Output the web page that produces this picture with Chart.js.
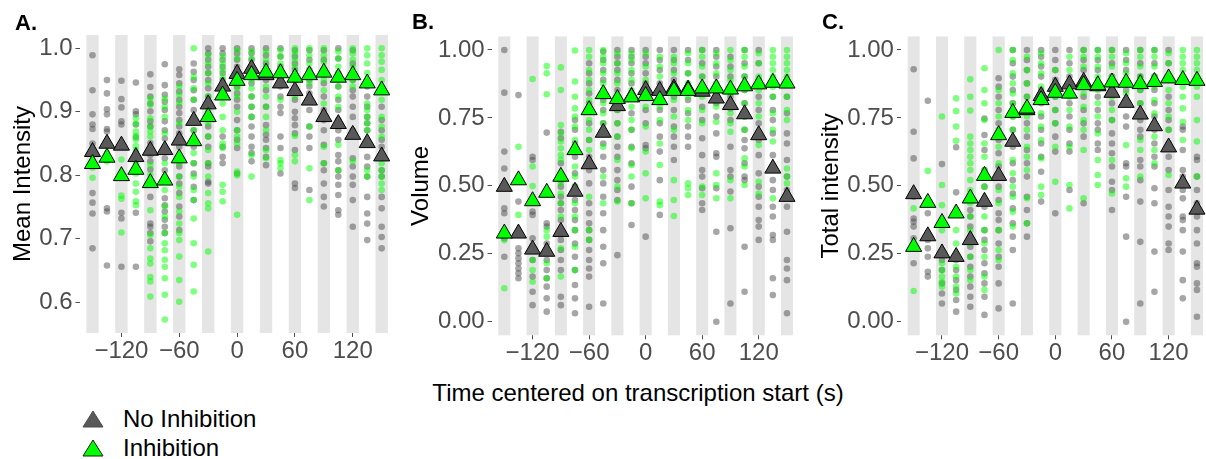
<!DOCTYPE html>
<html>
<head>
<meta charset="utf-8">
<script src="https://cdn.jsdelivr.net/npm/chart.js@4.4.1/dist/chart.umd.min.js"></script>
<style>
  html,body{margin:0;padding:0;background:#fff;}
  body{width:1206px;height:459px;overflow:hidden;position:relative;font-family:"Liberation Sans",Arial,sans-serif;}
  canvas{position:absolute;top:0;}
  .tag{position:absolute;font-weight:bold;font-size:22px;line-height:22px;color:#000;}
  .xtitle{position:absolute;left:338px;width:600px;top:380px;text-align:center;font-size:24px;line-height:26px;color:#000;}
  .leg{position:absolute;left:82px;font-size:24px;line-height:26px;color:#000;display:flex;align-items:center;}
  .leg svg{margin-right:19px;}
</style>
</head>
<body>
<canvas id="cA" width="405" height="375" style="left:0px"></canvas>
<canvas id="cB" width="410" height="375" style="left:400px"></canvas>
<canvas id="cC" width="415" height="375" style="left:805px"></canvas>

<div class="tag" style="left:15px;top:12px">A.</div>
<div class="tag" style="left:412px;top:11px">B.</div>
<div class="tag" style="left:822px;top:11px">C.</div>

<div class="xtitle">Time centered on transcription start (s)</div>
<div class="leg" style="top:406px">
  <svg width="22" height="18"><polygon points="11,1 21,17 1,17" fill="#595959" stroke="#4d4d4d" stroke-width="1"/></svg>No Inhibition
</div>
<div class="leg" style="top:435px">
  <svg width="22" height="18"><polygon points="11,1 21,17 1,17" fill="#00ff00" stroke="#1a1a1a" stroke-width="1"/></svg>Inhibition
</div>

<script>
// time bins (s) and axis ticks
const timeBins = [-150,-135,-120,-105,-90,-75,-60,-45,-30,-15,0,15,30,45,60,75,90,105,120,135,150];
const bandCenters = [-150,-120,-90,-60,-30,0,30,60,90,120,150];
const xTicks = [-120,-60,0,60,120];
const yTicksA = [0.6,0.7,0.8,0.9,1.0];
const yTicksBC = [0,0.25,0.5,0.75,1];

// A. Mean Intensity
const meanA_noInh = [0.837,0.850,0.847,0.829,0.839,0.840,0.855,0.886,0.912,0.940,0.960,0.968,0.958,0.945,0.933,0.918,0.892,0.881,0.864,0.851,0.830];
const meanA_inh   = [0.818,0.828,0.799,0.809,0.788,0.792,0.827,0.854,0.892,0.926,0.949,0.958,0.962,0.961,0.954,0.958,0.962,0.954,0.958,0.945,0.934];
const ptsA_noInh = [
  [0.989,0.934,0.896,0.880,0.873,0.850,0.772,0.757,0.740,0.685],
  [0.950,0.929,0.904,0.896,0.873,0.869,0.850,0.748,0.743,0.658],
  [0.949,0.920,0.907,0.885,0.880,0.845,0.741,0.732,0.656],
  [0.946,0.901,0.896,0.880,0.860,0.835,0.741,0.656],
  [0.959,0.939,0.924,0.913,0.901,0.885,0.877,0.851,0.832,0.822,0.809,0.790,0.766,0.724,0.719,0.709,0.696],
  [0.975,0.942,0.927,0.916,0.903,0.885,0.871,0.858,0.827,0.808,0.790,0.764,0.753,0.743,0.730,0.719,0.709],
  [0.967,0.958,0.945,0.932,0.919,0.908,0.898,0.887,0.877,0.866,0.845,0.829,0.814,0.798,0.787,0.772,0.751,0.735,0.714],
  [0.976,0.963,0.950,0.934,0.919,0.903,0.871,0.845,0.819,0.803,0.782,0.761],
  [1.0,0.992,0.982,0.971,0.961,0.950,0.937,0.924,0.898,0.877,0.861,0.845,0.819,0.814,0.790,0.787],
  [1.0,0.992,0.982,0.971,0.961,0.950,0.940,0.861,0.845,0.829,0.819],
  [1.0,0.992,0.982,0.971,0.961,0.950,0.940,0.929,0.919,0.908,0.887,0.871,0.856,0.843,0.803],
  [1.0,0.992,0.982,0.971,0.945,0.924,0.908,0.892,0.877,0.861,0.845,0.835,0.822],
  [1.0,0.989,0.976,0.950,0.934,0.908,0.879,0.864,0.856,0.843,0.829,0.816],
  [1.0,0.987,0.971,0.955,0.940,0.924,0.908,0.898,0.861,0.843,0.803],
  [0.997,0.987,0.976,0.966,0.950,0.934,0.919,0.900,0.890,0.879,0.866,0.840,0.787,0.780],
  [0.997,0.982,0.966,0.950,0.940,0.929,0.903,0.877,0.861,0.843,0.777],
  [0.997,0.982,0.961,0.945,0.924,0.903,0.887,0.871,0.848,0.819,0.808,0.787,0.766,0.751],
  [1.0,0.984,0.961,0.940,0.919,0.903,0.887,0.871,0.856,0.832,0.822,0.808,0.798,0.785,0.769,0.745,0.738],
  [0.997,0.976,0.950,0.934,0.924,0.908,0.892,0.871,0.827,0.814,0.798,0.785,0.761,0.719],
  [0.940,0.924,0.908,0.892,0.882,0.871,0.829,0.814,0.798,0.766,0.740,0.724,0.698],
  [0.908,0.887,0.871,0.856,0.845,0.808,0.798,0.766,0.748,0.719,0.703,0.685]
];
const ptsA_inh = [
  [0.820,0.812,0.796],
  [0.835,0.822],
  [0.825,0.800,0.768,0.763,0.710],
  [0.890,0.881,0.869,0.862,0.856,0.846,0.840,0.829,0.819,0.803,0.787,0.774,0.759,0.753],
  [0.921,0.911,0.890,0.877,0.869,0.861,0.840,0.816,0.801,0.787,0.745,0.706,0.685,0.669,0.661,0.640,0.633,0.609],
  [0.921,0.908,0.892,0.866,0.843,0.819,0.777,0.751,0.735,0.709,0.693,0.682,0.667,0.656,0.638,0.612,0.573],
  [0.940,0.927,0.914,0.882,0.856,0.819,0.798,0.782,0.766,0.743,0.724,0.709,0.698,0.672,0.635,0.601],
  [1.0,0.955,0.937,0.919,0.892,0.871,0.856,0.835,0.819,0.798,0.777,0.761,0.732,0.693,0.659,0.617],
  [0.989,0.976,0.961,0.945,0.924,0.903,0.882,0.861,0.840,0.819,0.798,0.772,0.756,0.748,0.680],
  [0.987,0.976,0.966,0.955,0.945,0.934,0.913,0.892,0.871,0.850,0.843,0.785,0.774,0.759],
  [0.997,0.984,0.966,0.950,0.937,0.924,0.900,0.871,0.861,0.850,0.806,0.800,0.738],
  [0.995,0.984,0.971,0.961,0.950,0.937,0.924,0.908,0.892,0.832,0.798],
  [0.995,0.982,0.971,0.955,0.940,0.924,0.908,0.892,0.871,0.840,0.827],
  [0.997,0.987,0.976,0.961,0.945,0.919,0.824,0.819,0.811],
  [1.0,0.992,0.982,0.971,0.955,0.924,0.862,0.832,0.822],
  [1.0,0.989,0.976,0.961,0.945,0.877,0.811,0.761],
  [1.0,0.989,0.979,0.966,0.950,0.934,0.913,0.845,0.819],
  [0.995,0.984,0.971,0.955,0.940,0.924,0.908,0.848,0.808],
  [1.0,0.992,0.982,0.971,0.961,0.950,0.940,0.822],
  [1.0,0.989,0.976,0.961,0.913,0.903,0.892,0.882,0.871,0.856,0.808,0.798],
  [1.0,0.989,0.979,0.966,0.950,0.934,0.919,0.892,0.877,0.861,0.819,0.808,0.798,0.787,0.777]
];

// B. Volume
const meanB_noInh = [0.497,0.325,0.266,0.258,0.331,0.479,0.580,0.696,0.794,0.828,0.853,0.850,0.859,0.855,0.847,0.822,0.798,0.764,0.687,0.564,0.460];
const meanB_inh   = [0.325,0.521,0.444,0.475,0.534,0.632,0.779,0.838,0.820,0.826,0.831,0.816,0.850,0.850,0.859,0.859,0.855,0.867,0.874,0.880,0.877];
const ptsB_noInh = [
  [1.0,0.843,0.626,0.564,0.417,0.399,0.307,0.239],
  [0.834,0.442,0.270,0.252,0.233,0.215,0.196,0.178,0.160],
  [0.607,0.595,0.405,0.393,0.307,0.227,0.166,0.110,0.061],
  [0.696,0.362,0.350,0.288,0.227,0.190,0.160,0.129,0.086,0.037],
  [0.699,0.675,0.583,0.546,0.521,0.497,0.460,0.436,0.411,0.374,0.337,0.301,0.264,0.227,0.190,0.092,0.061],
  [0.742,0.706,0.656,0.607,0.546,0.497,0.448,0.411,0.374,0.337,0.288,0.239,0.190,0.135,0.086,0.031],
  [0.951,0.914,0.877,0.840,0.804,0.730,0.669,0.607,0.558,0.509,0.436,0.399,0.362,0.337,0.301,0.264,0.227,0.196,0.166,0.055],
  [0.994,0.963,0.926,0.890,0.853,0.816,0.779,0.730,0.656,0.607,0.558,0.509,0.460,0.399,0.337,0.276,0.215,0.067],
  [1.0,0.975,0.951,0.926,0.890,0.853,0.816,0.779,0.730,0.681,0.644,0.607,0.558,0.521,0.485,0.448,0.245],
  [1.0,0.975,0.951,0.914,0.877,0.828,0.767,0.706,0.644,0.583,0.497,0.436,0.356],
  [1.0,0.975,0.951,0.914,0.877,0.828,0.779,0.730,0.650,0.638,0.313],
  [1.0,0.963,0.926,0.877,0.828,0.779,0.730,0.681,0.626,0.521,0.393],
  [1.0,0.963,0.926,0.890,0.828,0.779,0.718,0.681,0.644,0.595],
  [1.0,0.963,0.914,0.865,0.816,0.767,0.718,0.681,0.644],
  [1.0,0.951,0.902,0.853,0.791,0.742,0.675,0.613,0.558,0.534,0.491,0.436,0.411],
  [1.0,0.975,0.939,0.902,0.865,0.804,0.755,0.693,0.620,0.607,0.491,0.331,0.0],
  [0.975,0.939,0.902,0.865,0.828,0.785,0.742,0.644,0.558,0.534,0.479,0.344,0.067],
  [1.0,0.951,0.902,0.853,0.804,0.755,0.706,0.669,0.638,0.583,0.534,0.521,0.276,0.110],
  [1.0,0.951,0.890,0.828,0.779,0.730,0.669,0.613,0.546,0.497,0.460,0.423,0.374,0.350,0.301],
  [0.890,0.828,0.779,0.742,0.693,0.613,0.571,0.521,0.485,0.423,0.387,0.319,0.301,0.160,0.098],
  [0.828,0.767,0.693,0.656,0.595,0.534,0.485,0.423,0.331,0.227,0.196,0.153,0.031]
];
const ptsB_inh = [
  [0.320,0.300,0.123],
  [0.644,0.520,0.393],
  [0.893,0.571,0.499,0.276,0.227,0.190,0.147],
  [0.941,0.914,0.837,0.337,0.313,0.264,0.215,0.160],
  [0.936,0.853,0.724,0.693,0.663,0.638,0.613,0.595,0.509,0.472,0.436,0.387,0.270,0.166],
  [0.998,0.884,0.828,0.785,0.755,0.718,0.669,0.626,0.571,0.534,0.497,0.436,0.387,0.337,0.276,0.190],
  [1.0,0.975,0.926,0.890,0.853,0.816,0.779,0.742,0.706,0.669,0.632,0.460,0.337,0.301],
  [1.0,0.975,0.951,0.914,0.877,0.840,0.804,0.767,0.730,0.693,0.644,0.534,0.436],
  [0.988,0.951,0.914,0.877,0.828,0.779,0.730,0.681,0.595,0.497,0.442],
  [0.988,0.963,0.926,0.890,0.853,0.791,0.742,0.706,0.638,0.577,0.534,0.436],
  [0.988,0.939,0.890,0.840,0.791,0.718,0.626,0.546,0.454],
  [0.975,0.939,0.902,0.853,0.791,0.742,0.656,0.577,0.442,0.429],
  [0.975,0.951,0.914,0.865,0.816,0.755,0.706,0.521,0.448,0.389],
  [0.988,0.951,0.914,0.877,0.828,0.779,0.742,0.509,0.491,0.466],
  [1.0,0.975,0.939,0.902,0.865,0.828,0.779,0.730,0.497,0.466],
  [0.988,0.951,0.914,0.877,0.840,0.791,0.736,0.546,0.503,0.454],
  [1.0,0.963,0.926,0.890,0.840,0.804,0.767,0.730,0.699,0.521,0.454],
  [1.0,0.975,0.939,0.902,0.853,0.804,0.755,0.706,0.601,0.571,0.503],
  [0.988,0.951,0.902,0.853,0.804,0.755,0.650,0.515,0.472],
  [1.0,0.975,0.951,0.926,0.902,0.865,0.828,0.767,0.706,0.663,0.564,0.454],
  [1.0,0.975,0.951,0.926,0.902,0.877,0.828,0.779,0.742,0.564,0.534,0.509]
];

// C. Total intensity
const meanC_noInh = [0.470,0.315,0.252,0.239,0.301,0.442,0.537,0.663,0.779,0.831,0.865,0.874,0.883,0.867,0.843,0.806,0.763,0.720,0.642,0.509,0.413];
const meanC_inh   = [0.276,0.438,0.364,0.399,0.454,0.537,0.687,0.769,0.785,0.816,0.843,0.840,0.871,0.871,0.881,0.880,0.875,0.883,0.896,0.890,0.887];
const ptsC_noInh = [
  [0.929,0.699,0.601,0.460,0.380,0.368,0.350,0.307,0.276,0.215],
  [0.813,0.399,0.301,0.270,0.239,0.184,0.166],
  [0.580,0.227,0.190,0.141,0.104,0.067],
  [0.642,0.476,0.227,0.190,0.153,0.117,0.080,0.037],
  [0.411,0.387,0.350,0.313,0.276,0.239,0.202,0.166,0.129,0.092,0.055],
  [0.748,0.687,0.632,0.558,0.497,0.423,0.337,0.301,0.264,0.215,0.178,0.141,0.092,0.025],
  [0.896,0.865,0.828,0.779,0.730,0.669,0.620,0.571,0.497,0.448,0.399,0.374,0.337,0.288,0.239,0.202,0.141,0.049],
  [1.0,0.951,0.902,0.853,0.804,0.755,0.706,0.644,0.583,0.521,0.472,0.417,0.362,0.313,0.264,0.067],
  [1.0,0.963,0.926,0.877,0.828,0.779,0.730,0.681,0.632,0.583,0.534,0.460,0.411,0.362,0.313],
  [1.0,0.975,0.939,0.902,0.853,0.804,0.755,0.706,0.656,0.607,0.552,0.442],
  [1.0,0.963,0.926,0.890,0.828,0.779,0.730,0.681,0.626,0.399],
  [1.0,0.951,0.902,0.853,0.804,0.755,0.706,0.656,0.626,0.485],
  [1.0,0.963,0.926,0.877,0.828,0.779,0.730,0.681,0.436],
  [1.0,0.963,0.926,0.877,0.828,0.779,0.730,0.706,0.656,0.632],
  [1.0,0.951,0.902,0.853,0.804,0.742,0.693,0.656,0.620,0.571,0.515,0.485,0.411],
  [1.0,0.963,0.926,0.890,0.853,0.804,0.755,0.718,0.583,0.571,0.460,0.313,0.0],
  [1.0,0.951,0.902,0.853,0.804,0.742,0.706,0.681,0.595,0.571,0.521,0.442,0.294,0.067],
  [1.0,0.951,0.902,0.853,0.804,0.755,0.706,0.656,0.607,0.571,0.491,0.436,0.258,0.110],
  [1.0,0.951,0.890,0.828,0.779,0.742,0.706,0.656,0.607,0.558,0.485,0.423,0.387,0.350,0.288,0.264],
  [0.718,0.706,0.632,0.558,0.534,0.485,0.454,0.387,0.374,0.337,0.258,0.153,0.086],
  [0.607,0.595,0.534,0.485,0.436,0.387,0.337,0.288,0.215,0.202,0.141,0.117,0.018]
];
const ptsC_inh = [
  [0.417,0.270,0.113],
  [0.555,0.430],
  [0.755,0.503,0.429,0.337,0.215,0.190,0.166,0.147,0.129],
  [0.822,0.775,0.718,0.666,0.337,0.288,0.239,0.202,0.166,0.129,0.104],
  [0.892,0.828,0.777,0.681,0.656,0.632,0.607,0.583,0.558,0.521,0.485,0.436,0.387,0.337,0.288,0.239,0.190,0.153],
  [0.933,0.853,0.804,0.742,0.656,0.607,0.558,0.497,0.387,0.337,0.288,0.239,0.166,0.117],
  [1.0,0.853,0.804,0.755,0.706,0.644,0.583,0.534,0.485,0.436,0.337,0.264,0.227],
  [1.0,0.963,0.914,0.877,0.840,0.804,0.755,0.706,0.656,0.595,0.546,0.497,0.460,0.405,0.350],
  [0.975,0.926,0.877,0.828,0.755,0.706,0.644,0.607,0.558,0.454,0.362],
  [0.988,0.951,0.914,0.865,0.816,0.767,0.718,0.669,0.601,0.497,0.466],
  [0.926,0.877,0.828,0.779,0.730,0.644,0.515],
  [0.975,0.926,0.877,0.828,0.779,0.718,0.644,0.503,0.417],
  [1.0,0.975,0.939,0.890,0.840,0.791,0.742,0.706,0.632,0.454],
  [1.0,0.975,0.939,0.902,0.853,0.804,0.755,0.693,0.595,0.540,0.503],
  [1.0,0.975,0.939,0.902,0.865,0.828,0.779,0.742,0.595,0.472],
  [0.988,0.951,0.914,0.877,0.840,0.650,0.528,0.497],
  [1.0,0.975,0.939,0.902,0.853,0.804,0.755,0.669,0.632,0.534],
  [1.0,0.975,0.939,0.902,0.865,0.816,0.767,0.718,0.681,0.632,0.583],
  [0.988,0.951,0.902,0.853,0.804,0.755,0.706,0.540],
  [1.0,0.975,0.951,0.926,0.902,0.865,0.828,0.785,0.736,0.669],
  [1.0,0.975,0.951,0.926,0.902,0.865,0.828,0.742,0.663,0.534]
];

const FONT = '"Liberation Sans", Arial, sans-serif';

// grey bands behind every other time bin
const bandPlugin = {
  id:'bands',
  beforeDatasetsDraw(chart){
    const {ctx, chartArea:a, scales:{x}} = chart;
    ctx.save();
    ctx.fillStyle = '#e5e5e5';
    bandCenters.forEach(c=>{
      const l = x.getPixelForValue(c-6.4), r = x.getPixelForValue(c+6.4);
      ctx.fillRect(l, a.top, r-l, a.bottom-a.top);
    });
    ctx.restore();
  }
};

function flatPts(lists){
  const out=[];
  lists.forEach((ys,i)=>ys.forEach(y=>out.push({x:timeBins[i], y})));
  return out;
}
function meanPts(vals){ return vals.map((y,i)=>({x:timeBins[i], y})); }
const minus = v => v<0 ? '\u2212'+Math.abs(v) : String(v);

function makePanel(id, o){
  new Chart(document.getElementById(id), {
    type:'scatter',
    data:{datasets:[
      {data:meanPts(o.meanInh), pointStyle:'triangle', pointRadius:9.3, backgroundColor:'#00ff00', borderColor:'#000', borderWidth:1, order:0},
      {data:meanPts(o.meanNo), pointStyle:'triangle', pointRadius:9.3, backgroundColor:'#595959', borderColor:'#000', borderWidth:1, order:1},
      {data:flatPts(o.ptsInh), pointRadius:3.3, backgroundColor:'rgba(0,255,0,0.5)', borderWidth:0, order:2},
      {data:flatPts(o.ptsNo), pointRadius:3.3, backgroundColor:'rgba(77,77,77,0.5)', borderWidth:0, order:3}
    ]},
    options:{
      responsive:false, animation:false, devicePixelRatio:1,
      layout:{padding:{top:o.top, right:o.right, left:0, bottom:0}},
      plugins:{legend:{display:false}, tooltip:{enabled:false}},
      scales:{
        x:{
          type:'linear', min:-163.5, max:163.5,
          afterBuildTicks: s=>{ s.ticks = xTicks.map(v=>({value:v})); },
          afterFit: s=>{ s.height = o.xH; },
          ticks:{callback:minus, font:{family:FONT, size:24}, color:'#4d4d4d', padding:0, maxRotation:0, autoSkip:false},
          grid:{drawOnChartArea:false, drawTicks:true, tickLength:4, tickColor:'#4d4d4d'},
          border:{display:false}
        },
        y:{
          type:'linear', min:o.ymin, max:o.ymax,
          afterBuildTicks: s=>{ s.ticks = o.yTicks.map(v=>({value:v})); },
          afterFit: s=>{ s.width = o.yW; },
          ticks:{callback:v=>v.toFixed(o.dec), font:{family:FONT, size:24}, color:'#4d4d4d', padding:3},
          grid:{drawOnChartArea:false, drawTicks:true, tickLength:4, tickColor:'#4d4d4d'},
          border:{display:false},
          title:{display:true, text:o.title, font:{family:FONT, size:24}, color:'#000', padding:{top:o.tPad, bottom:0}}
        }
      }
    },
    plugins:[bandPlugin]
  });
}

makePanel('cA', {meanNo:meanA_noInh, meanInh:meanA_inh, ptsNo:ptsA_noInh, ptsInh:ptsA_inh,
  ymin:0.5517, ymax:1.021, yTicks:yTicksA, dec:1, title:'Mean Intensity',
  top:35, right:7, yW:79.5, xH:42, tPad:8.5});
makePanel('cB', {meanNo:meanB_noInh, meanInh:meanB_inh, ptsNo:ptsB_noInh, ptsInh:ptsB_inh,
  ymin:-0.05, ymax:1.05, yTicks:yTicksBC, dec:2, title:'Volume',
  top:36.4, right:6.4, yW:91.6, xH:39.7, tPad:6.5});
makePanel('cC', {meanNo:meanC_noInh, meanInh:meanC_inh, ptsNo:ptsC_noInh, ptsInh:ptsC_inh,
  ymin:-0.05, ymax:1.05, yTicks:yTicksBC, dec:2, title:'Total intensity',
  top:36.4, right:6.2, yW:95.9, xH:39.7, tPad:11.5});
</script>
</body>
</html>
